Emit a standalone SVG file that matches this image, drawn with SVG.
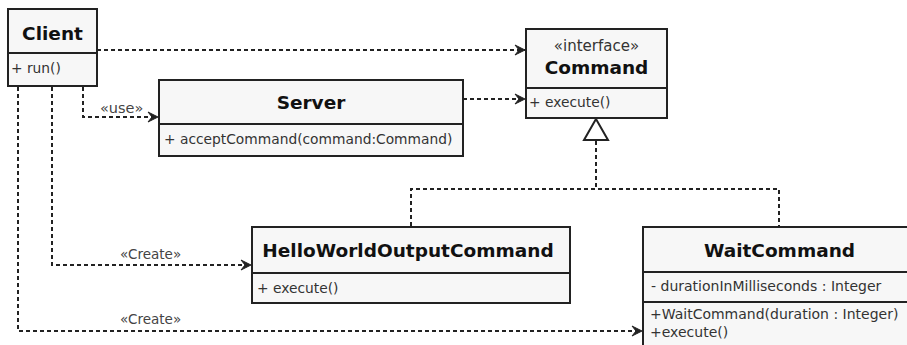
<svg xmlns="http://www.w3.org/2000/svg" width="907" height="345" viewBox="0 0 907 345">
<style>
.box{fill:#f7f7f7;stroke:#222;stroke-width:2}
.div{stroke:#222;stroke-width:2}
.title{font-family:"DejaVu Sans",sans-serif;font-weight:bold;font-size:18.5px;fill:#111}
.mem{font-family:"DejaVu Sans",sans-serif;font-size:13.8px;fill:#333}
.mem2{font-family:"DejaVu Sans",sans-serif;font-size:14px;fill:#333}
.st{font-family:"DejaVu Sans",sans-serif;font-size:15px;fill:#333}
.lbl{font-family:"DejaVu Sans",sans-serif;font-size:13.5px;fill:#444}
.dep{fill:none;stroke:#222;stroke-width:2;stroke-dasharray:4 3}
</style>
<defs>
<marker id="arr" viewBox="0 0 12 12" refX="11" refY="6" markerWidth="12" markerHeight="12" markerUnits="userSpaceOnUse" orient="auto">
<path d="M11,6 L1,1 L5,6 L1,11 Z" fill="#222" stroke="#222" stroke-width="1" stroke-linejoin="miter"/>
</marker>
</defs>
<rect width="907" height="345" fill="#fff"/>
<g id="connectors">
<path class="dep" d="M97,50 H525" marker-end="url(#arr)"/>
<path class="dep" d="M463,99 H525" marker-end="url(#arr)"/>
<path class="dep" d="M83,87 V117 H158" marker-end="url(#arr)"/>
<path class="dep" d="M52,87 V265 H251" marker-end="url(#arr)"/>
<path class="dep" d="M18,87 V331 H642" marker-end="url(#arr)"/>
<path class="dep" d="M411,226 V189 H779 V226"/>
<path class="dep" d="M596,141 V189"/>
<polygon points="596,119 584,140 608,140" fill="#fff" stroke="#222" stroke-width="2"/>
<text class="lbl" x="100" y="113" style="font-size:14.5px">«use»</text>
<text class="lbl" x="120" y="259">«Create»</text>
<text class="lbl" x="120" y="324">«Create»</text>
</g>
<g id="Client">
<rect class="box" x="8" y="9" width="89" height="77"/>
<line class="div" x1="8" y1="53" x2="97" y2="53"/>
<text class="title" x="52.5" y="40" text-anchor="middle">Client</text>
<text class="mem" x="11" y="73">+ run()</text>
</g>
<g id="Server">
<rect class="box" x="159" y="80" width="304" height="76"/>
<line class="div" x1="159" y1="124" x2="463" y2="124"/>
<text class="title" x="311" y="109" text-anchor="middle">Server</text>
<text class="mem" x="164" y="144">+ acceptCommand(command:Command)</text>
</g>
<g id="Command">
<rect class="box" x="526" y="29" width="141" height="89"/>
<line class="div" x1="526" y1="88" x2="667" y2="88"/>
<text class="st" x="596.5" y="51" text-anchor="middle">«interface»</text>
<text class="title" x="596.5" y="74" text-anchor="middle">Command</text>
<text class="mem" x="529" y="107">+ execute()</text>
</g>
<g id="HelloWorldOutputCommand">
<rect class="box" x="252" y="227" width="318" height="76"/>
<line class="div" x1="252" y1="273" x2="570" y2="273"/>
<text class="title" x="408" y="257" text-anchor="middle">HelloWorldOutputCommand</text>
<text class="mem" x="257" y="293">+ execute()</text>
</g>
<g id="WaitCommand">
<rect class="box" x="643" y="227" width="275" height="130"/>
<line class="div" x1="643" y1="272" x2="918" y2="272"/>
<line class="div" x1="643" y1="302" x2="918" y2="302"/>
<text class="title" x="779.5" y="257" text-anchor="middle">WaitCommand</text>
<text class="mem2" x="651" y="291">- durationInMilliseconds : Integer</text>
<text class="mem2" x="650" y="319">+WaitCommand(duration : Integer)</text>
<text class="mem2" x="650" y="337">+execute()</text>
</g>
</svg>
